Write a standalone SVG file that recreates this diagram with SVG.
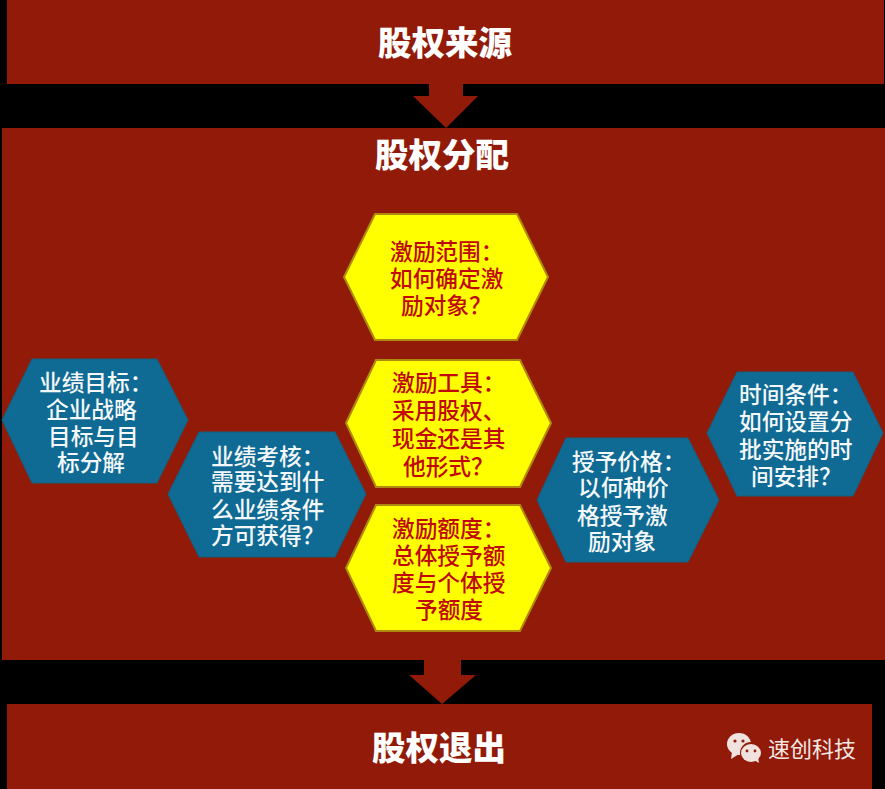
<svg xmlns="http://www.w3.org/2000/svg" width="885" height="789" viewBox="0 0 885 789">
<style>
.band{fill:#921a08}
.t{font-family:"Noto Sans CJK SC","Noto Sans",sans-serif;font-weight:900;font-size:33.5px;fill:#fff}
.y polygon{fill:#ffff00;stroke:#b08a10;stroke-width:2}
.b polygon{fill:#0f6a94;stroke:#14607f;stroke-width:1}
.y text,.b text{font-family:"Noto Sans CJK SC","Noto Sans",sans-serif;font-weight:500;font-size:22.7px}
.y text{fill:#c00808}
.b text{fill:#f4f8fa}
.brand{font-family:"Noto Sans CJK SC","Noto Sans",sans-serif;font-weight:400;font-size:22px;fill:#f4e8e4}
</style>
<rect width="885" height="789" fill="#000"/>
<g id="source"><rect class="band" x="7" y="0" width="877" height="84"/><text class="t" x="378" y="55">股权来源</text></g>
<g id="allocation"><rect class="band" x="2" y="128" width="883" height="532"/><text class="t" x="375" y="167">股权分配</text></g>
<g id="exit"><rect class="band" x="7" y="704" width="865" height="85"/><text class="t" x="372" y="760">股权退出</text></g>
<g id="connectors">
<polygon class="band" points="429,84 463,84 463,96 478,96 446,128 413,96 429,96"/>
<polygon class="band" points="424,660 461,660 461,675 476,675 442,704 409,675 424,675"/>
</g>
<g id="n-range" class="y"><polygon points="344,277 375,214 517,214 548,277 517,340 375,340"/>
<text><tspan x="390" y="260">激励范围：</tspan><tspan x="390" y="287">如何确定激</tspan><tspan x="401" y="314">励对象？</tspan></text></g>
<g id="n-tool" class="y"><polygon points="346,423 376,360 520,360 551,423 520,487 376,487"/>
<text><tspan x="392" y="391">激励工具：</tspan><tspan x="392" y="419">采用股权、</tspan><tspan x="392" y="447">现金还是其</tspan><tspan x="403" y="475">他形式？</tspan></text></g>
<g id="n-amount" class="y"><polygon points="346,568 376,505 520,505 551,568 520,631 376,631"/>
<text><tspan x="392" y="537">激励额度：</tspan><tspan x="392" y="564">总体授予额</tspan><tspan x="392" y="591">度与个体授</tspan><tspan x="415" y="618">予额度</tspan></text></g>
<g id="n-target" class="b"><polygon points="2,420 32,359 157,359 188,420 157,483 32,483"/>
<text><tspan x="39" y="391">业绩目标：</tspan><tspan x="46" y="418">企业战略</tspan><tspan x="48" y="445">目标与目</tspan><tspan x="57" y="471">标分解</tspan></text></g>
<g id="n-review" class="b"><polygon points="168,494 199,432 335,432 366,494 335,557 199,557"/>
<text><tspan x="211" y="465">业绩考核：</tspan><tspan x="211" y="490">需要达到什</tspan><tspan x="211" y="518">么业绩条件</tspan><tspan x="211" y="544">方可获得？</tspan></text></g>
<g id="n-price" class="b"><polygon points="537,500 566,438 688,438 719,500 688,562 566,562"/>
<text><tspan x="572" y="470">授予价格：</tspan><tspan x="578" y="496">以何种价</tspan><tspan x="577" y="524">格授予激</tspan><tspan x="588" y="550">励对象</tspan></text></g>
<g id="n-time" class="b"><polygon points="707,433 737,372 853,372 883,433 853,496 737,496"/>
<text><tspan x="739" y="403">时间条件：</tspan><tspan x="739" y="430">如何设置分</tspan><tspan x="739" y="458">批实施的时</tspan><tspan x="751" y="485">间安排？</tspan></text></g>
<g id="brand">
<ellipse cx="739" cy="744" rx="12" ry="11" fill="#f0e2de"/><polygon points="732,752 731,759 739,754" fill="#f0e2de"/>
<circle cx="751" cy="753" r="11" fill="#921a08"/><ellipse cx="751" cy="753" rx="10" ry="9" fill="#f0e2de"/><polygon points="754,760 759,763 758,757" fill="#f0e2de"/>
<circle cx="735" cy="741" r="1.6" fill="#921a08"/><circle cx="743" cy="741" r="1.6" fill="#921a08"/><circle cx="747" cy="751" r="1.4" fill="#921a08"/><circle cx="755" cy="751" r="1.4" fill="#921a08"/>
<text class="brand" x="768" y="757">速创科技</text></g>
</svg>
